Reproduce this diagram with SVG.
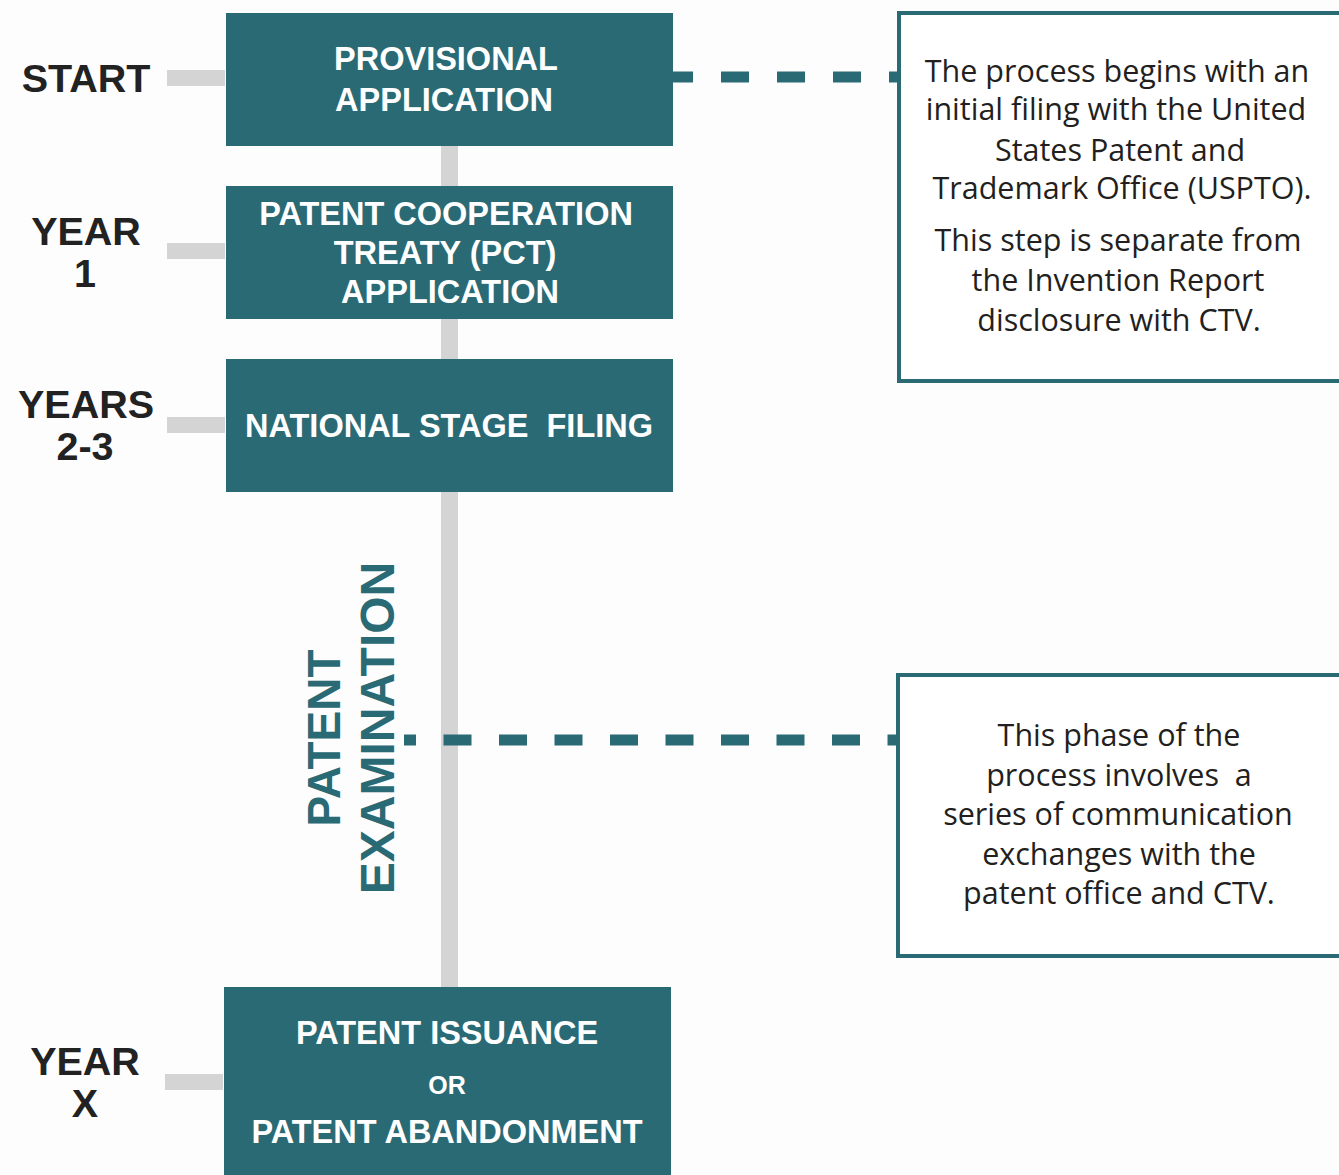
<svg xmlns="http://www.w3.org/2000/svg" width="1339" height="1175" viewBox="0 0 1339 1175">
<style>
.step{fill:#2a6a75}
.stub{fill:#d4d4d4}
.lbl{font-family:"Liberation Sans",Arial,sans-serif;font-weight:bold;font-size:39.5px;fill:#222;text-anchor:middle}
.bt{font-family:"Liberation Sans",Arial,sans-serif;font-weight:bold;font-size:32.5px;fill:#fff;text-anchor:middle}
.note{fill:#fff;stroke:#2a6a75;stroke-width:4}
.nt{font-family:"Open Sans","Noto Sans",sans-serif;font-size:30.5px;fill:#231f20;text-anchor:middle}
.dash{stroke:#2a6a75;stroke-width:11;fill:none}
.vt{font-family:"Liberation Sans",Arial,sans-serif;font-weight:bold;font-size:46px;fill:#2a6a75;text-anchor:middle}
</style>
<rect width="1339" height="1175" fill="#fdfdfd"/>
<g id="connectors">
<rect class="stub" x="441" y="140" width="17" height="850"/>
<rect class="stub" x="167" y="70" width="58" height="16"/>
<rect class="stub" x="167" y="243" width="58" height="16"/>
<rect class="stub" x="167" y="417" width="58" height="16"/>
<rect class="stub" x="165" y="1074" width="58" height="16"/>
<line class="dash" x1="673" y1="77" x2="898" y2="77" stroke-dasharray="28 28" stroke-dashoffset="8"/>
<line class="dash" x1="404" y1="740" x2="898" y2="740" stroke-dasharray="28 27.5" stroke-dashoffset="16"/>
</g>
<g id="label-start"><text class="lbl" x="86" y="92">START</text></g>
<g id="label-year1"><text class="lbl" x="86" y="245">YEAR</text><text class="lbl" x="85" y="287">1</text></g>
<g id="label-years23"><text class="lbl" x="86" y="418">YEARS</text><text class="lbl" x="85" y="460">2-3</text></g>
<g id="label-yearx"><text class="lbl" x="85" y="1075">YEAR</text><text class="lbl" x="85" y="1117">X</text></g>
<g id="node-provisional">
<rect class="step" x="226" y="13" width="447" height="133"/>
<text class="bt" x="446" y="70">PROVISIONAL</text>
<text class="bt" x="444" y="111">APPLICATION</text>
</g>
<g id="node-pct">
<rect class="step" x="226" y="186" width="447" height="133"/>
<text class="bt" x="446" y="225">PATENT COOPERATION</text>
<text class="bt" x="445" y="264">TREATY (PCT)</text>
<text class="bt" x="450" y="303">APPLICATION</text>
</g>
<g id="node-national">
<rect class="step" x="226" y="359" width="447" height="133"/>
<text class="bt" x="449" y="437" xml:space="preserve">NATIONAL STAGE  FILING</text>
</g>
<g id="node-examination">
<text class="vt" transform="translate(340 738) rotate(-90)">PATENT</text>
<text class="vt" style="font-size:48px" transform="translate(394 728) rotate(-90)">EXAMINATION</text>
</g>
<g id="node-issuance">
<rect class="step" x="224" y="987" width="447" height="190"/>
<text class="bt" x="447" y="1044">PATENT ISSUANCE</text>
<text class="bt" x="447" y="1094" style="font-size:25px">OR</text>
<text class="bt" x="447" y="1143">PATENT ABANDONMENT</text>
</g>
<g id="note-provisional">
<rect class="note" x="899" y="13" width="445" height="368"/>
<text class="nt" x="1117" y="82">The process begins with an</text>
<text class="nt" x="1116" y="120">initial filing with the United</text>
<text class="nt" x="1120" y="161">States Patent and</text>
<text class="nt" x="1122" y="199">Trademark Office (USPTO).</text>
<text class="nt" x="1118" y="251">This step is separate from</text>
<text class="nt" x="1118" y="291">the Invention Report</text>
<text class="nt" x="1119" y="331">disclosure with CTV.</text>
</g>
<g id="note-examination">
<rect class="note" x="898" y="675" width="446" height="281"/>
<text class="nt" x="1119" y="746">This phase of the</text>
<text class="nt" x="1119" y="786" xml:space="preserve">process involves  a</text>
<text class="nt" x="1118" y="825">series of communication</text>
<text class="nt" x="1119" y="865">exchanges with the</text>
<text class="nt" x="1119" y="904">patent office and CTV.</text>
</g>
</svg>
